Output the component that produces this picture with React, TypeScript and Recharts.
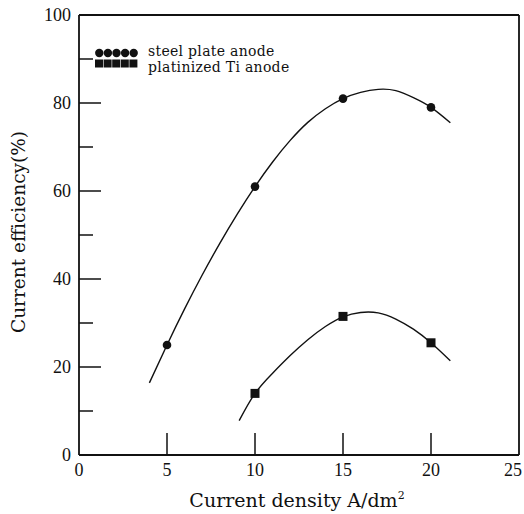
import React from 'react';
import { ComposedChart, Line, Scatter, XAxis, YAxis, ReferenceLine } from 'recharts';

// axis ticks
const xTicks = [0, 5, 10, 15, 20, 25];
const yTicks = [0, 10, 20, 30, 40, 50, 60, 70, 80, 90, 100];

// measured points
const steelX = [5, 10, 15, 20];
const steelY = [25, 61, 81, 79];
const tiX = [10, 15, 20];
const tiY = [14, 31.5, 25.5];

// fitted curves
const steelCurveX = [4, 5, 6, 7, 8, 9, 10, 11, 12, 13, 14, 15, 16, 17, 18, 19, 20, 21.1];
const steelCurveY = [16.4, 25, 33.2, 40.9, 48.1, 54.8, 61, 66.6, 71.5, 75.6, 78.7, 81, 82.4, 83.1, 82.8, 81.2, 79, 75.5];
const tiCurveX = [9.1, 10, 11, 12, 13, 14, 15, 16, 17, 18, 19, 20, 21.1];
const tiCurveY = [7.8, 14, 18.6, 22.6, 26.2, 29.2, 31.4, 32.4, 32.3, 30.9, 28.6, 25.5, 21.4];

const legendNames = ['steel plate anode', 'platinized Ti anode'];

const zip = (xs: number[], ys: number[]) => xs.map((x, i) => ({ x, y: ys[i] }));

const steelPts = zip(steelX, steelY);
const tiPts = zip(tiX, tiY);
const steelCurve = zip(steelCurveX, steelCurveY);
const tiCurve = zip(tiCurveX, tiCurveY);

const INK = '#111';
const TICK_FONT = '"Liberation Serif", serif';
const LABEL_FONT = '"DejaVu Serif", serif';

const XTick = (p: any) => {
  const v = p.payload.value;
  const last = v === 25;
  return (
    <g>
      {v > 0 && v < 25 && (
        <line x1={p.x} x2={p.x} y1={p.y} y2={p.y - 22} stroke={INK} strokeWidth={1.5} />
      )}
      <text
        x={last ? p.x + 3 : p.x}
        y={p.y + 21}
        textAnchor={last ? 'end' : 'middle'}
        fontFamily={TICK_FONT}
        fontSize={18}
        fill={INK}
      >
        {v}
      </text>
    </g>
  );
};

const YTick = (p: any) => {
  const v = p.payload.value;
  const major = v % 20 === 0;
  return (
    <g>
      {v > 0 && v < 100 && (
        <line x1={p.x} x2={p.x + (major ? 22 : 14)} y1={p.y} y2={p.y} stroke={INK} strokeWidth={1.5} />
      )}
      {major && (
        <text x={p.x - 8} y={p.y + 6} textAnchor="end" fontFamily={TICK_FONT} fontSize={18} fill={INK}>
          {v}
        </text>
      )}
    </g>
  );
};

const Dot = (p: any) => <circle cx={p.cx} cy={p.cy} r={4.3} fill={INK} />;
const Sq = (p: any) => <rect x={p.cx - 4.5} y={p.cy - 4.5} width={9} height={9} fill={INK} />;

const LegendBox = () => (
  <svg
    width={220}
    height={40}
    style={{ position: 'absolute', left: 80, top: 38, display: 'block', overflow: 'visible' }}
  >
    {[0, 1, 2, 3, 4].map((i) => (
      <circle key={'c' + i} cx={19.3 + i * 8.6} cy={15} r={4.2} fill={INK} />
    ))}
    {[0, 1, 2, 3, 4].map((i) => (
      <rect key={'s' + i} x={15 + i * 8.6} y={21.5} width={8} height={8} fill={INK} />
    ))}
    {legendNames.map((n, i) => (
      <text
        key={n}
        x={68}
        y={18 + i * 15.5}
        fontFamily={LABEL_FONT}
        fontSize={14}
        letterSpacing={0.3}
        fill={INK}
      >
        {n}
      </text>
    ))}
  </svg>
);

export default function App() {
  return (
    <div style={{ position: 'absolute', left: 0, top: 0, width: 524, height: 514, background: '#fff' }}>
      <ComposedChart width={524} height={514} margin={{ top: 15, right: 5, bottom: 0, left: 0 }}>
        <XAxis
          type="number"
          dataKey="x"
          domain={[0, 25]}
          ticks={xTicks}
          interval={0}
          height={59}
          axisLine={{ stroke: INK, strokeWidth: 1.8 }}
          tickLine={false}
          tickSize={0}
          tickMargin={0}
          tick={XTick}
          label={() => (
            <text x={297} y={507} textAnchor="middle" fontFamily={LABEL_FONT} fontSize={19} fill={INK}>
              Current density A/dm
              <tspan dy={-8} fontSize={11}>2</tspan>
            </text>
          )}
        />
        <YAxis
          type="number"
          dataKey="y"
          domain={[0, 100]}
          ticks={yTicks}
          interval={0}
          width={79}
          axisLine={{ stroke: INK, strokeWidth: 1.8 }}
          tickLine={false}
          tickSize={0}
          tickMargin={0}
          tick={YTick}
          label={() => (
            <text
              transform="translate(25,232) rotate(-90)"
              textAnchor="middle"
              fontFamily={LABEL_FONT}
              fontSize={18.5}
              fill={INK}
            >
              Current efficiency(%)
            </text>
          )}
        />
        <ReferenceLine y={100} stroke={INK} strokeWidth={1.8} />
        <ReferenceLine x={25} stroke={INK} strokeWidth={1.8} />
        <Line
          data={steelCurve}
          dataKey="y"
          type="natural"
          stroke={INK}
          strokeWidth={1.4}
          dot={false}
          activeDot={false}
          isAnimationActive={false}
        />
        <Line
          data={tiCurve}
          dataKey="y"
          type="natural"
          stroke={INK}
          strokeWidth={1.4}
          dot={false}
          activeDot={false}
          isAnimationActive={false}
        />
        <Scatter data={steelPts} dataKey="y" shape={Dot} isAnimationActive={false} />
        <Scatter data={tiPts} dataKey="y" shape={Sq} isAnimationActive={false} />
      </ComposedChart>
      <LegendBox />
    </div>
  );
}
